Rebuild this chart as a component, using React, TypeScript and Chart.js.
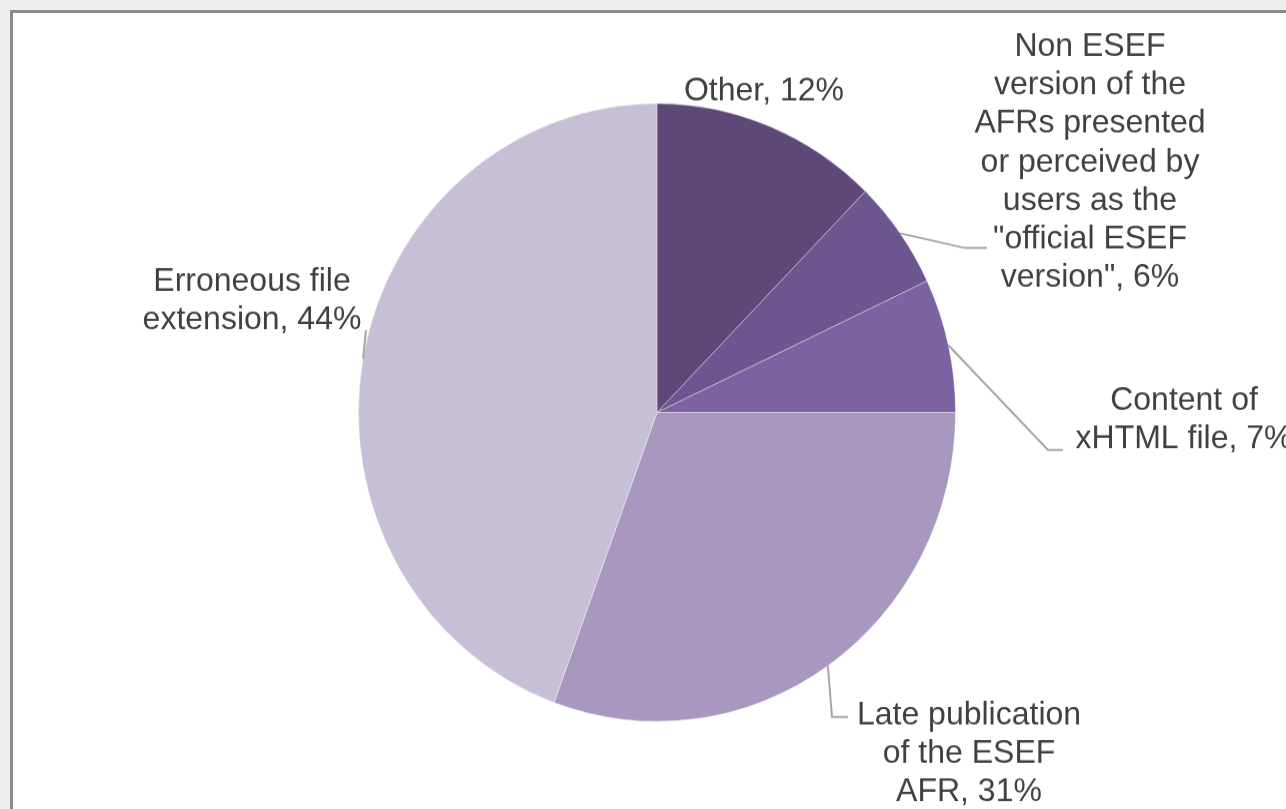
import React, { useEffect, useRef } from "react";
import { Chart, registerables } from "chart.js";

Chart.register(...registerables);

// ---- Data ----
const categories = [
  "Other",
  'Non ESEF version of the AFRs presented or perceived by users as the "official ESEF version"',
  "Content of xHTML file",
  "Late publication of the ESEF AFR",
  "Erroneous file extension",
];
const values = [12.3, 5.7, 7.0, 30.6, 44.4];
const colors = ["#5d4878", "#6c5690", "#7c62a0", "#a898bf", "#c6bfd6"];

// line breaks of each category label (the percentage is appended to the last line)
const labelLines = [
  ["Other"],
  ["Non ESEF", "version of the", "AFRs presented", "or perceived by", "users as the", '"official ESEF', 'version"'],
  ["Content of", "xHTML file"],
  ["Late publication", "of the ESEF", "AFR"],
  ["Erroneous file", "extension"],
];

// ---- Layout (reference pixel coordinates) ----
const SY = 1.035; // vertical stretch of the picture
const CANVAS_W = 1286;
const CANVAS_H = Math.round(809 / SY);
const labelLayout = [
  { x: 764, y: 90, elbow: [] as number[][] },
  { x: 1090, y: 46, elbow: [[965, 248], [987, 248]] },
  { x: 1184, y: 400, elbow: [[1048, 450], [1063, 450]] },
  { x: 969, y: 714, elbow: [[832, 717], [848, 717]] },
  { x: 252, y: 281, elbow: [[366, 330]] },
];
const LINE_H = 38.4;
const FONT = '32px "Liberation Sans", Arial, sans-serif';

const labelPlugin = {
  id: "outerLabels",
  afterDatasetsDraw(chart: any) {
    const ctx = chart.ctx;
    const meta = chart.getDatasetMeta(0);
    ctx.save();
    meta.data.forEach((arc: any, i: number) => {
      const lay = labelLayout[i];
      const mid = (arc.startAngle + arc.endAngle) / 2;
      const ax = arc.x + Math.cos(mid) * arc.outerRadius;
      const ay = arc.y + Math.sin(mid) * arc.outerRadius;
      if (lay.elbow.length) {
        ctx.beginPath();
        ctx.strokeStyle = "#a6a6a6";
        ctx.lineWidth = 2;
        ctx.moveTo(ax, ay);
        lay.elbow.forEach((p) => ctx.lineTo(p[0], p[1] / SY));
        ctx.stroke();
      }
      const lines = labelLines[i].slice();
      lines[lines.length - 1] = lines[lines.length - 1] + ", " + Math.round(values[i]) + "%";
      ctx.fillStyle = "#404040";
      ctx.font = FONT;
      ctx.textAlign = "center";
      ctx.textBaseline = "middle";
      lines.forEach((t, k) => {
        ctx.fillText(t, lay.x, (lay.y + k * LINE_H) / SY + 1);
      });
    });
    ctx.restore();
  },
};

export default function App() {
  const ref = useRef<HTMLCanvasElement | null>(null);
  useEffect(() => {
    if (!ref.current) return;
    const cx = 657;
    const cy = 412.5 / SY;
    const r = 299;
    const chart = new Chart(ref.current, {
      type: "pie",
      data: {
        labels: categories,
        datasets: [
          {
            data: values,
            backgroundColor: colors,
            borderColor: "rgba(255,255,255,0.35)",
            borderWidth: 1,
          },
        ],
      },
      options: {
        responsive: false,
        animation: false,
        layout: {
          padding: {
            left: cx - r,
            right: CANVAS_W - (cx + r),
            top: cy - r,
            bottom: CANVAS_H - (cy + r),
          },
        },
        plugins: {
          legend: { display: false },
          tooltip: { enabled: false },
        },
      },
      plugins: [labelPlugin],
    });
    return () => chart.destroy();
  }, []);

  return (
    <div
      style={{
        position: "fixed",
        left: 0,
        top: 0,
        width: 1286,
        height: 809,
        background: "#efefef",
        overflow: "hidden",
      }}
    >
      <div
        style={{
          position: "absolute",
          left: 10,
          top: 10,
          width: 1400,
          height: 900,
          borderLeft: "3px solid #898989",
          borderTop: "3px solid #898989",
          background: "#ffffff",
        }}
      />
      <canvas
        ref={ref}
        width={CANVAS_W}
        height={CANVAS_H}
        style={{
          position: "absolute",
          left: 0,
          top: 0,
          transform: `scaleY(${SY})`,
          transformOrigin: "0 0",
        }}
      />
    </div>
  );
}
